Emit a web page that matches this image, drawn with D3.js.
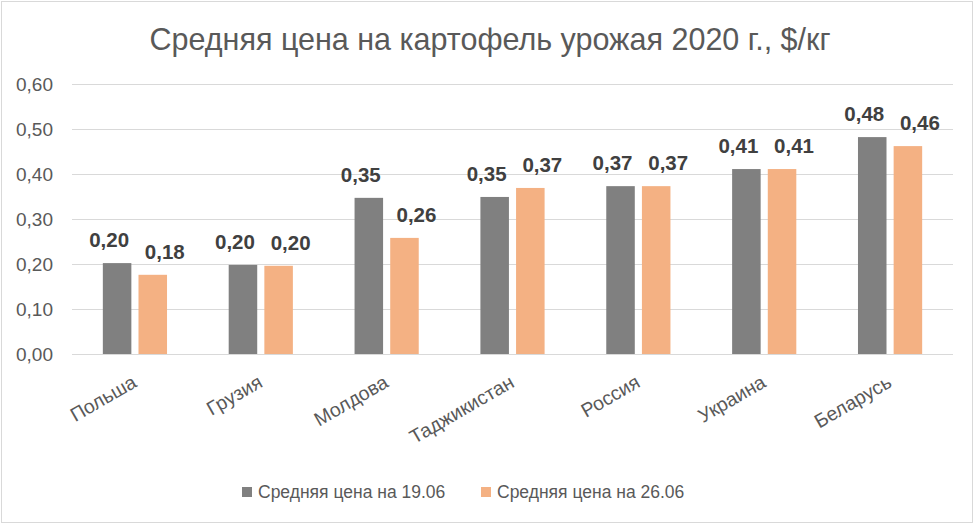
<!DOCTYPE html>
<html>
<head>
<meta charset="utf-8">
<script src="https://cdn.jsdelivr.net/npm/d3@7"></script>
<style>
  body { margin: 0; background: #fff; }
  svg { display: block; font-family: "Liberation Sans", Arial, sans-serif; }
</style>
</head>
<body>
<svg id="chart" width="976" height="526"></svg>
<script>
// chart data
var categories = ["Польша", "Грузия", "Молдова", "Таджикистан", "Россия", "Украина", "Беларусь"];
var seriesNames = ["Средняя цена на 19.06", "Средняя цена на 26.06"];
var price1906 = [0.202, 0.198, 0.347, 0.349, 0.373, 0.411, 0.482];
var price2606 = [0.176, 0.196, 0.258, 0.369, 0.373, 0.411, 0.462];
var yTicks = [0, 0.1, 0.2, 0.3, 0.4, 0.5, 0.6];
var colors = ["#808080", "#f4b183"];

var svg = d3.select("#chart");
var plotL = 72, plotR = 953, plotT = 84, plotB = 354;

// outer frame
svg.append("rect")
  .attr("x", 1.5).attr("y", 1.5)
  .attr("width", 971).attr("height", 521)
  .attr("fill", "#fff")
  .attr("stroke", "#d9d9d9");

svg.append("text")
  .attr("x", 490).attr("y", 50)
  .attr("text-anchor", "middle")
  .attr("fill", "#595959")
  .style("font-size", "30.5px")
  .text("Средняя цена на картофель урожая 2020 г., $/кг");

var y = d3.scaleLinear().domain([0, 0.6]).range([plotB, plotT]);
var x0 = d3.scaleBand().domain(categories).range([plotL, plotR])
  .paddingInner(0.49).paddingOuter(0.245);
var x1 = d3.scaleBand().domain([0, 1]).range([0, x0.bandwidth()]).paddingInner(0.2);

var fmt = function (v) { return d3.format(".2f")(v).replace(".", ","); };

// gridlines + y labels
var yAxis = d3.axisLeft(y).tickValues(yTicks).tickSize(-(plotR - plotL)).tickFormat(fmt).tickPadding(19);
var gy = svg.append("g").attr("transform", "translate(" + plotL + ",0)").call(yAxis);
gy.select(".domain").remove();
gy.selectAll("line").attr("stroke", "#d9d9d9");
gy.selectAll("text").attr("fill", "#595959").style("font-size", "19px")
  .style("font-family", "'Liberation Sans', Arial, sans-serif");

// bars
var rows = categories.map(function (c, i) { return {cat: c, vals: [price1906[i], price2606[i]]}; });
var grp = svg.selectAll(".grp").data(rows).enter().append("g")
  .attr("transform", function (d) { return "translate(" + x0(d.cat) + ",0)"; });

grp.selectAll("rect").data(function (d) { return d.vals; }).enter().append("rect")
  .attr("x", function (d, i) { return x1(i); })
  .attr("y", function (d) { return y(d); })
  .attr("width", x1.bandwidth())
  .attr("height", function (d) { return plotB - y(d); })
  .attr("fill", function (d, i) { return colors[i]; });

// value labels are pushed apart sideways so the pair doesn't collide
var labelNudge = [-8, 12];
grp.selectAll(".lbl").data(function (d) { return d.vals; }).enter().append("text")
  .attr("x", function (d, i) { return x1(i) + x1.bandwidth() / 2 + labelNudge[i]; })
  .attr("y", function (d) { return y(d) - 16; })
  .attr("text-anchor", "middle")
  .attr("fill", "#404040")
  .style("font-size", "20.5px")
  .style("font-weight", "bold")
  .text(function (d) { return fmt(d); });

// category labels
svg.selectAll(".cat").data(categories).enter().append("text")
  .attr("transform", function (d) {
    return "translate(" + (x0(d) + x0.bandwidth() / 2 + 3) + ",386) rotate(-30)";
  })
  .attr("text-anchor", "end")
  .attr("fill", "#595959")
  .style("font-size", "19.5px")
  .text(function (d) { return d; });

// legend
var legX = [242, 481];
var leg = svg.selectAll(".leg").data(seriesNames).enter().append("g")
  .attr("transform", function (d, i) { return "translate(" + legX[i] + ",487)"; });
leg.append("rect").attr("width", 10).attr("height", 10)
  .attr("fill", function (d, i) { return colors[i]; });
leg.append("text").attr("x", 16).attr("y", 11)
  .attr("fill", "#595959")
  .style("font-size", "17.5px")
  .text(function (d) { return d; });
</script>
</body>
</html>
